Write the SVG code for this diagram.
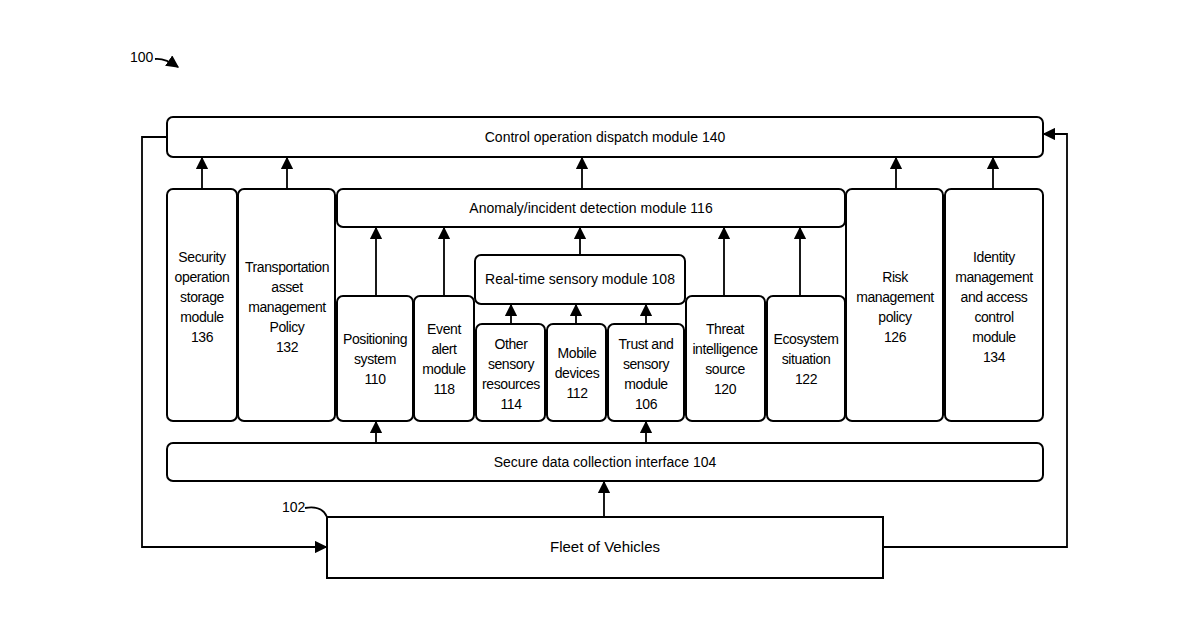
<svg xmlns="http://www.w3.org/2000/svg" width="1200" height="630" viewBox="0 0 1200 630">
<style>
.b{fill:#fff;stroke:#000;stroke-width:2}
.t{font-family:"Liberation Sans",Arial,sans-serif;font-size:14px;text-anchor:middle;fill:#000}
.n{letter-spacing:-0.4px}
.c{fill:none;stroke:#000;stroke-width:1.8}
</style>
<defs><marker id="a" viewBox="0 0 10 10" refX="9" refY="5" markerWidth="7" markerHeight="7" orient="auto"><path d="M0,0L10,5L0,10z"/></marker></defs>
<rect width="1200" height="630" fill="#fff"/>
<g id="label100"><text x="130" y="62" class="t" style="text-anchor:start">100</text><path d="M155,59 Q165,58 178,67" class="c" marker-end="url(#a)"/></g>
<g id="n140"><rect class="b" x="167" y="117" width="876" height="40" rx="6"/><text class="t" x="605" y="142">Control operation dispatch module 140</text></g>
<g id="n136"><rect class="b" x="167" y="189" width="70" height="232" rx="6"/><text class="t n"><tspan x="202" y="262">Security</tspan><tspan x="202" y="282">operation</tspan><tspan x="202" y="302">storage</tspan><tspan x="202" y="322">module</tspan><tspan x="202" y="342">136</tspan></text></g>
<g id="n132"><rect class="b" x="238" y="189" width="97" height="232" rx="6"/><text class="t n"><tspan x="287" y="272">Transportation</tspan><tspan x="287" y="292">asset</tspan><tspan x="287" y="312">management</tspan><tspan x="287" y="332">Policy</tspan><tspan x="287" y="352">132</tspan></text></g>
<g id="n116"><rect class="b" x="337" y="189" width="508" height="38" rx="6"/><text class="t" x="591" y="213">Anomaly/incident detection module 116</text></g>
<g id="n126"><rect class="b" x="846" y="189" width="97" height="232" rx="6"/><text class="t n"><tspan x="895" y="282">Risk</tspan><tspan x="895" y="302">management</tspan><tspan x="895" y="322">policy</tspan><tspan x="895" y="342">126</tspan></text></g>
<g id="n134"><rect class="b" x="945" y="189" width="98" height="232" rx="6"/><text class="t n"><tspan x="994" y="262">Identity</tspan><tspan x="994" y="282">management</tspan><tspan x="994" y="302">and access</tspan><tspan x="994" y="322">control</tspan><tspan x="994" y="342">module</tspan><tspan x="994" y="362">134</tspan></text></g>
<g id="n108"><rect class="b" x="475" y="255" width="210" height="49" rx="6"/><text class="t" x="580" y="284">Real-time sensory module 108</text></g>
<g id="n110"><rect class="b" x="337" y="296" width="76" height="125" rx="6"/><text class="t n"><tspan x="375" y="344">Positioning</tspan><tspan x="375" y="364">system</tspan><tspan x="375" y="384">110</tspan></text></g>
<g id="n118"><rect class="b" x="414" y="296" width="60" height="125" rx="6"/><text class="t n"><tspan x="444" y="334">Event</tspan><tspan x="444" y="354">alert</tspan><tspan x="444" y="374">module</tspan><tspan x="444" y="394">118</tspan></text></g>
<g id="n114"><rect class="b" x="476" y="324" width="69" height="97" rx="6"/><text class="t n"><tspan x="511" y="349">Other</tspan><tspan x="511" y="369">sensory</tspan><tspan x="511" y="389">resources</tspan><tspan x="511" y="409">114</tspan></text></g>
<g id="n112"><rect class="b" x="547" y="324" width="59" height="97" rx="6"/><text class="t n"><tspan x="577" y="358">Mobile</tspan><tspan x="577" y="378">devices</tspan><tspan x="577" y="398">112</tspan></text></g>
<g id="n106"><rect class="b" x="608" y="324" width="76" height="97" rx="6"/><text class="t n"><tspan x="646" y="349">Trust and</tspan><tspan x="646" y="369">sensory</tspan><tspan x="646" y="389">module</tspan><tspan x="646" y="409">106</tspan></text></g>
<g id="n120"><rect class="b" x="686" y="296" width="79" height="125" rx="6"/><text class="t n"><tspan x="725" y="334">Threat</tspan><tspan x="725" y="354">intelligence</tspan><tspan x="725" y="374">source</tspan><tspan x="725" y="394">120</tspan></text></g>
<g id="n122"><rect class="b" x="767" y="296" width="78" height="125" rx="6"/><text class="t n"><tspan x="806" y="344">Ecosystem</tspan><tspan x="806" y="364">situation</tspan><tspan x="806" y="384">122</tspan></text></g>
<g id="n104"><rect class="b" x="167" y="443" width="876" height="38" rx="6"/><text class="t" x="605" y="467">Secure data collection interface 104</text></g>
<g id="n102"><rect class="b" x="327" y="517" width="556" height="61"/><text class="t" x="605" y="552" style="font-size:15px">Fleet of Vehicles</text><text class="t" x="282" y="512" style="text-anchor:start">102</text><path d="M305,508 Q322,505 327,517" class="c"/></g>
<g id="connectors">
<path class="c" marker-end="url(#a)" d="M202,189V158"/>
<path class="c" marker-end="url(#a)" d="M287,189V158"/>
<path class="c" marker-end="url(#a)" d="M582,189V158"/>
<path class="c" marker-end="url(#a)" d="M896,189V158"/>
<path class="c" marker-end="url(#a)" d="M993,189V158"/>
<path class="c" marker-end="url(#a)" d="M376,296V228"/>
<path class="c" marker-end="url(#a)" d="M444,296V228"/>
<path class="c" marker-end="url(#a)" d="M580,255V228"/>
<path class="c" marker-end="url(#a)" d="M724,296V228"/>
<path class="c" marker-end="url(#a)" d="M800,296V228"/>
<path class="c" marker-end="url(#a)" d="M511,324V305"/>
<path class="c" marker-end="url(#a)" d="M576,324V305"/>
<path class="c" marker-end="url(#a)" d="M646,324V305"/>
<path class="c" marker-end="url(#a)" d="M376,443V422"/>
<path class="c" marker-end="url(#a)" d="M646,443V422"/>
<path class="c" marker-end="url(#a)" d="M604,517V482"/>
<path class="c" marker-end="url(#a)" d="M167,137H142V547H326"/>
<path class="c" marker-end="url(#a)" d="M883,547H1067V134H1044"/>
</g>
</svg>
